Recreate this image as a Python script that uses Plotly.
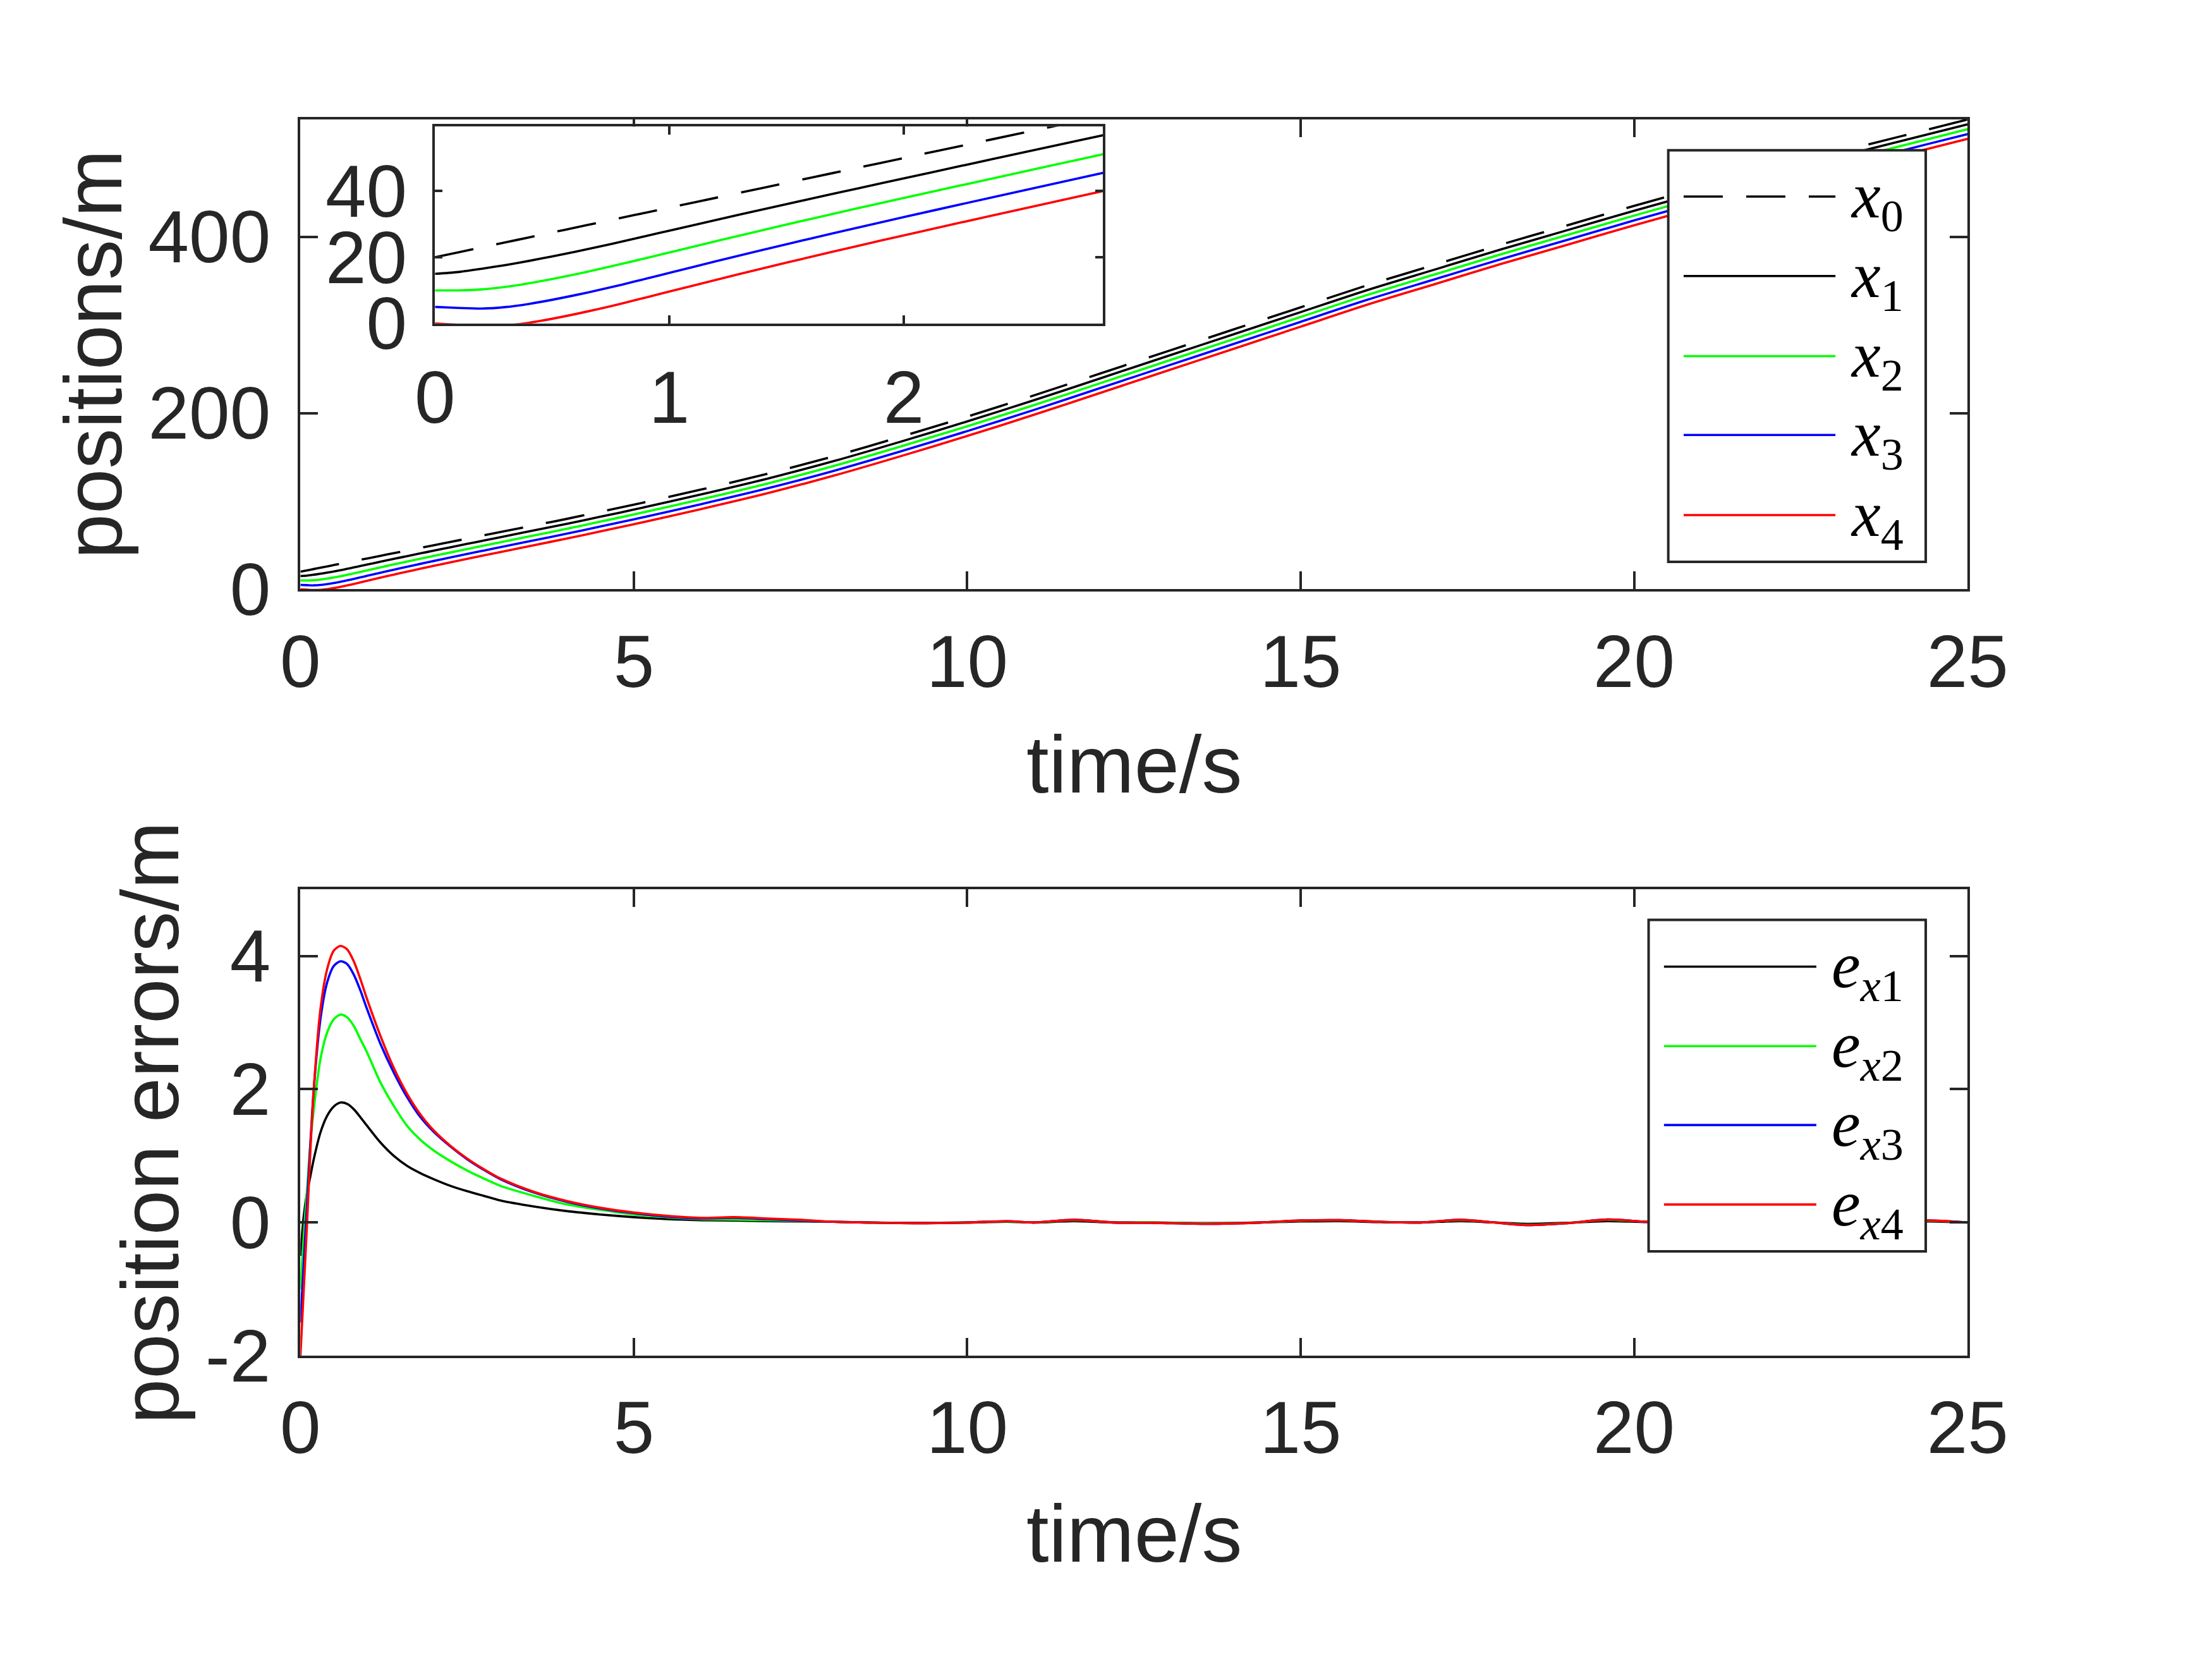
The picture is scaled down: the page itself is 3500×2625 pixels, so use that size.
import plotly.graph_objects as go

# ---------------- data ----------------
t_pos = [0, 0.1, 0.2, 0.3, 0.4, 0.5, 0.6, 0.7, 0.8, 0.9, 1.0, 1.2, 1.4, 1.6, 1.8, 2.0,
         2.25, 2.5, 2.75, 3.0, 3.5, 4.0, 4.5, 5.0, 6, 7, 8, 9, 10, 11, 12, 13, 14, 15,
         16, 17, 18, 19, 20, 21, 22, 23, 24, 25]

x0 = [20, 21.5, 23, 24.5, 26, 27.5, 29, 30.5, 32, 33.5, 35, 38, 41, 44, 47, 50,
      53.75, 57.5, 61.25, 65, 72.5, 80, 88, 96, 113, 131, 151, 173, 196, 220, 245, 270,
      295, 320, 345, 368, 391, 413, 435, 456, 476, 495, 514, 533]
x1 = [15.0, 15.55, 16.55, 17.65, 18.9, 20.26, 21.7, 23.22, 24.8, 26.42, 28.05, 31.3,
      34.5, 37.65, 40.76, 43.85, 47.7, 51.53, 55.35, 59.17, 66.76, 74.33, 82.38, 90.42,
      107.47, 125.48, 145.49, 167.5, 190.5, 214.5, 239.5, 264.5, 289.5, 314.5, 339.5,
      362.5, 385.5, 407.5, 429.5, 450.5, 470.5, 489.5, 508.5, 527.5]
x2 = [10.0, 10.0, 10.3, 11.05, 12.15, 13.45, 14.88, 16.42, 18.05, 19.75, 21.45, 24.9,
      28.25, 31.55, 34.76, 37.92, 41.83, 45.72, 49.59, 53.45, 61.1, 68.73, 76.81, 84.88,
      101.95, 119.97, 139.99, 162, 185, 209, 234, 259, 284, 309, 334, 357, 380, 402,
      424, 445, 465, 484, 503, 522]
x3 = [5.0, 4.7, 4.5, 4.95, 5.9, 7.15, 8.58, 10.12, 11.78, 13.52, 15.3, 18.82, 22.25,
      25.62, 28.92, 32.14, 36.11, 40.05, 43.96, 47.85, 55.55, 63.19, 71.29, 79.36,
      96.44, 114.45, 134.49, 156.5, 179.5, 203.5, 228.5, 253.5, 278.5, 303.5, 328.5,
      351.5, 374.5, 396.5, 418.5, 439.5, 459.5, 478.5, 497.5, 516.5]
x4 = [0.0, -0.4, -0.8, -0.6, 0.2, 1.42, 2.85, 4.4, 6.08, 7.85, 9.65, 13.2, 16.68,
      20.07, 23.38, 26.62, 30.6, 34.54, 38.45, 42.34, 50.04, 57.68, 65.78, 73.85,
      90.93, 108.94, 128.99, 151, 174, 198, 223, 248, 273, 298, 323, 346, 369, 391,
      413, 434, 454, 473, 492, 511]

t_err = [0, 0.05, 0.1, 0.15, 0.2, 0.3, 0.4, 0.5, 0.6, 0.7, 0.8, 0.9, 1.0, 1.2, 1.4,
         1.6, 1.8, 2.0, 2.25, 2.5, 2.75, 3.0, 3.5, 4.0, 4.5, 5.0, 5.5, 6.0, 6.5, 7.0,
         7.5, 8.0, 8.5, 9.2, 10.0, 10.6, 11.0, 11.6, 12.2, 12.8, 13.6, 14.4, 15.0, 15.6,
         16.2, 16.8, 17.4, 17.9, 18.4, 19.0, 19.6, 20.2, 21.0, 22.0, 23.0, 24.0, 24.4, 25.0]

e1 = [-0.5, 0.1, 0.45, 0.7, 0.95, 1.35, 1.6, 1.74, 1.8, 1.78, 1.7, 1.58, 1.45, 1.2,
      1.0, 0.85, 0.74, 0.65, 0.55, 0.47, 0.4, 0.33, 0.24, 0.17, 0.12, 0.08, 0.05, 0.035,
      0.03, 0.02, 0.015, 0.01, 0.0, -0.005, 0.0, 0.01, 0.0, 0.02, 0.0, 0.0, -0.01, 0.0,
      0.015, 0.02, 0.005, 0.0, 0.02, 0.0, -0.02, -0.005, 0.02, 0.005, 0.0, 0.0, 0.0,
      0.005, 0.015, 0.0]
e2 = [-1.0, -0.2, 0.5, 1.2, 1.7, 2.45, 2.85, 3.05, 3.12, 3.08, 2.95, 2.75, 2.55, 2.1,
      1.75, 1.45, 1.24, 1.08, 0.92, 0.78, 0.66, 0.55, 0.4, 0.27, 0.19, 0.12, 0.08, 0.05,
      0.045, 0.035, 0.025, 0.01, 0.0, -0.01, 0.0, 0.015, 0.0, 0.035, 0.0, 0.0, -0.015,
      0.0, 0.025, 0.03, 0.01, 0.0, 0.035, 0.0, -0.035, -0.01, 0.04, 0.01, 0.0, 0.0, 0.0,
      0.01, 0.025, 0.0]
e3 = [-1.5, -0.6, 0.3, 1.2, 2.0, 3.05, 3.6, 3.85, 3.92, 3.88, 3.72, 3.48, 3.2, 2.68,
      2.25, 1.88, 1.58, 1.36, 1.14, 0.95, 0.79, 0.65, 0.45, 0.31, 0.21, 0.14, 0.09, 0.06,
      0.07, 0.05, 0.03, 0.01, 0.0, -0.01, 0.0, 0.02, 0.0, 0.04, 0.0, -0.005, -0.02, 0.0,
      0.03, 0.035, 0.01, 0.0, 0.04, 0.0, -0.04, -0.01, 0.045, 0.01, 0.0, 0.0, 0.0, 0.01,
      0.03, 0.0]
e4 = [-2.0, -1.0, 0.0, 1.1, 2.0, 3.2, 3.8, 4.08, 4.15, 4.1, 3.92, 3.65, 3.35, 2.8,
      2.32, 1.93, 1.62, 1.38, 1.15, 0.96, 0.8, 0.66, 0.46, 0.32, 0.22, 0.15, 0.1, 0.07,
      0.08, 0.06, 0.04, 0.01, 0.0, -0.01, 0.0, 0.02, 0.0, 0.04, 0.0, -0.005, -0.02, 0.0,
      0.03, 0.035, 0.01, 0.0, 0.04, 0.0, -0.04, -0.01, 0.045, 0.01, 0.0, 0.0, 0.0, 0.01,
      0.03, 0.0]

pos_names = ["<i>x</i><sub>0</sub>", "<i>x</i><sub>1</sub>", "<i>x</i><sub>2</sub>",
             "<i>x</i><sub>3</sub>", "<i>x</i><sub>4</sub>"]
err_names = ["<i>e</i><sub><i>x</i>1</sub>", "<i>e</i><sub><i>x</i>2</sub>",
             "<i>e</i><sub><i>x</i>3</sub>", "<i>e</i><sub><i>x</i>4</sub>"]

time_ticks = [0, 5, 10, 15, 20, 25]
pos_ticks = [0, 200, 400]
err_ticks = [-2, 0, 2, 4]
err_ticktext = ["-2", "0", "2", "4"]
inset_xticks = [0, 1, 2]
inset_yticks = [0, 20, 40]

# ---------------- styling ----------------
W, H = 3500, 2625
INK = "#262626"
SANS = "Liberation Sans, Arial, Helvetica, sans-serif"
SERIF = "Liberation Serif, Times New Roman, serif"
TICK_FS = 116
LABEL_FS = 128
LEG_FS = 103
LW = 3.6
AXW = 4
DASH = "62px,37px"
colors = ["#000000", "#000000", "#00ff00", "#0000ff", "#ff0000"]
err_colors = ["#000000", "#00ff00", "#0000ff", "#ff0000"]


def px(X):
    return X / W


def py(Y):
    return 1 - Y / H


fig = go.Figure()

pos_series = [x0, x1, x2, x3, x4]
for axes in [("x", "y"), ("x3", "y3")]:
    for i, ys in enumerate(pos_series):
        fig.add_trace(go.Scatter(
            x=t_pos, y=ys, mode="lines", xaxis=axes[0], yaxis=axes[1],
            line=dict(color=colors[i], width=LW, shape="spline", smoothing=0.8,
                      dash=DASH if i == 0 else "solid"),
            showlegend=False, hoverinfo="skip"))

for i, ys in enumerate([e1, e2, e3, e4]):
    fig.add_trace(go.Scatter(
        x=t_err, y=ys, mode="lines", xaxis="x2", yaxis="y2",
        line=dict(color=err_colors[i], width=LW, shape="spline", smoothing=0.8),
        showlegend=False, hoverinfo="skip"))


def axis_common(ticklen, standoff):
    return dict(showline=True, linecolor=INK, linewidth=AXW, mirror="ticks",
                ticks="inside", ticklen=ticklen, tickwidth=AXW, tickcolor=INK,
                showgrid=False, zeroline=False,
                tickfont=dict(family=SANS, size=TICK_FS, color=INK),
                ticklabelstandoff=standoff)


# axes frames (reference pixel coordinates)
MX0, MX1 = 456, 3169
TOP_Y0, TOP_Y1 = 194, 956.5
BOT_Y0, BOT_Y1 = 1443.5, 2200.5
IN_X0, IN_X1 = 675, 1762
IN_Y0, IN_Y1 = 205.5, 525

fig.update_layout(
    width=W, height=H, autosize=False,
    margin=dict(l=0, r=0, t=0, b=0),
    paper_bgcolor="white", plot_bgcolor="white",
    showlegend=False,
    xaxis=dict(domain=[px(MX0), px(MX1)], anchor="y", range=[0, 25],
               tickvals=time_ticks, **axis_common(28, 11)),
    yaxis=dict(domain=[py(TOP_Y1), py(TOP_Y0)], anchor="x", range=[0, 533],
               tickvals=pos_ticks, **axis_common(28, 20)),
    xaxis2=dict(domain=[px(MX0), px(MX1)], anchor="y2", range=[0, 25],
                tickvals=time_ticks, **axis_common(28, 11)),
    yaxis2=dict(domain=[py(BOT_Y1), py(BOT_Y0)], anchor="x2", range=[-2, 5],
                tickvals=err_ticks, ticktext=err_ticktext, **axis_common(28, 20)),
    xaxis3=dict(domain=[px(IN_X0), px(IN_X1)], anchor="y3", range=[0, 2.85],
                tickvals=inset_xticks, **axis_common(13, 14)),
    yaxis3=dict(domain=[py(IN_Y1), py(IN_Y0)], anchor="x3", range=[0, 59.5],
                tickvals=inset_yticks, **axis_common(12, 17)),
)

# axis titles
ann = []
for yb in [1285, 2533]:
    ann.append(dict(text="time/s", xref="paper", yref="paper",
                    x=px((MX0 + MX1) / 2), y=py(yb - 0.3465 * LABEL_FS),
                    xanchor="center", yanchor="middle", showarrow=False,
                    font=dict(family=SANS, size=LABEL_FS, color=INK)))
ann.append(dict(text="positions/m", xref="paper", yref="paper",
                x=px(163 - 0.3465 * LABEL_FS), y=py((TOP_Y0 + TOP_Y1) / 2),
                textangle=-90, xanchor="center", yanchor="middle", showarrow=False,
                font=dict(family=SANS, size=LABEL_FS, color=INK)))
ann.append(dict(text="position errors/m", xref="paper", yref="paper",
                x=px(255 - 0.3465 * LABEL_FS), y=py((BOT_Y0 + BOT_Y1) / 2),
                textangle=-90, xanchor="center", yanchor="middle", showarrow=False,
                font=dict(family=SANS, size=LABEL_FS, color=INK)))

# legend boxes (drawn like MATLAB legends, with long line samples)
shapes = []


def legend_box(bx0, bx1, by0, by1, lx0, lx1, tx, rows, names, cols, dashes):
    shapes.append(dict(type="rect", xref="paper", yref="paper", layer="above",
                       x0=px(bx0), x1=px(bx1), y0=py(by1), y1=py(by0),
                       line=dict(color=INK, width=AXW), fillcolor="white"))
    for ry, nm, c, d in zip(rows, names, cols, dashes):
        shapes.append(dict(type="line", xref="paper", yref="paper", layer="above",
                           x0=px(lx0), x1=px(lx1), y0=py(ry), y1=py(ry),
                           line=dict(color=c, width=LW, dash=d)))
        ann.append(dict(text=nm, xref="paper", yref="paper", x=px(tx), y=py(ry + 6),
                        xanchor="left", yanchor="middle", showarrow=False,
                        font=dict(family=SERIF, size=LEG_FS, color="black")))


legend_box(2682, 3101, 244, 912, 2707, 2954, 2976,
           [319, 448, 578, 706, 836], pos_names, colors,
           [DASH, "solid", "solid", "solid", "solid"])
legend_box(2650, 3101, 1493, 2031, 2675, 2923, 2946,
           [1569, 1698, 1826, 1955], err_names, err_colors,
           ["solid"] * 4)

fig.update_layout(annotations=ann, shapes=shapes)

fig.write_html(
    "out.html",
    config={"displayModeBar": False, "staticPlot": True},
    post_script=("document.body.style.margin='0px';"
                 "document.body.style.overflow='hidden';"
                 "document.documentElement.style.overflow='hidden';"))
